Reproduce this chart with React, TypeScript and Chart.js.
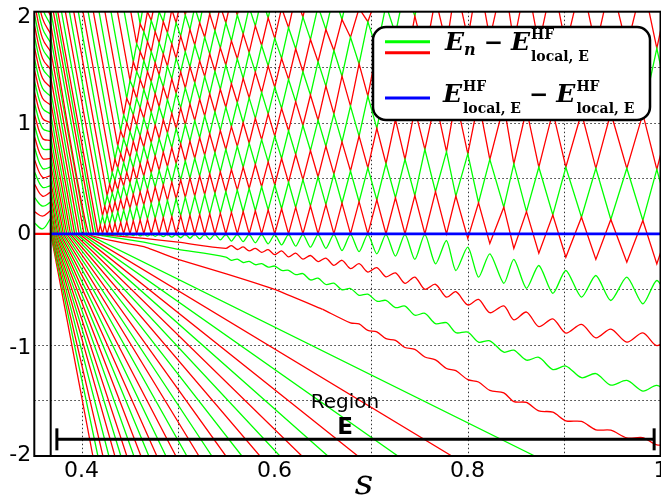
import React, { useEffect, useRef } from 'react';
import { Chart, registerables } from 'chart.js';
Chart.register(...registerables);

const RED = '#ff0000';
const GREEN = '#00ff00';
const BLUE = '#0000ff';

const xTickValues = [0.4, 0.5, 0.6, 0.7, 0.8, 0.9, 1.0];
const xTickLabels = ['0.4', '', '0.6', '', '0.8', '', '1'];
const yLabelValues = [2, 1, 0, -1, -2];
const yLabelTexts = ['2', '1', '0', '-1', '-2'];

const edgeS = 0.368; // s of the black vertical line

// s positions of the zigzag vertex columns
const colS = [0.4172, 0.4194, 0.4217, 0.4240, 0.4265, 0.4291, 0.4318, 0.4346, 0.4375, 0.4405,
  0.4436, 0.4468, 0.4502, 0.4536, 0.4571, 0.4607,
  0.4645, 0.4683, 0.4722, 0.4763, 0.4804, 0.4847, 0.4890, 0.4935, 0.4980, 0.5027,
  0.5075, 0.5123, 0.5173, 0.5224, 0.5276, 0.5328, 0.5382, 0.5438, 0.5495, 0.5553,
  0.5614, 0.5675, 0.5737, 0.5801, 0.5866, 0.5934, 0.6002, 0.6073, 0.6145, 0.6219,
  0.6294, 0.6372, 0.6451, 0.6532, 0.6615, 0.6699, 0.6787, 0.6876, 0.6967, 0.7060,
  0.7155, 0.7253, 0.7352, 0.7454, 0.7558, 0.7668, 0.7782, 0.7879, 0.8003, 0.8114,
  0.8231, 0.8376, 0.8480, 0.8611, 0.8739, 0.8884, 0.9019, 0.9181, 0.9330, 0.9485,
  0.9651, 0.9817, 0.9962, 1.0107];

// touching levels of the upper bands; entry k of row m sits at column m + 2k
const row0 = [0, 0, 0, 0, 0, 0, 0, 0, 0, 0, 0, 0, 0, 0, 0, 0, 0, 0, 0, 0, 0, 0, 0, 0, 0, 0, 0, 0, 0, 0, 0, 0, -0.042, -0.087, -0.132, -0.175, -0.21, -0.23, -0.256, -0.27];
const row1 = [0.078, 0.083, 0.089, 0.096, 0.103, 0.111, 0.119, 0.126, 0.133, 0.14, 0.147, 0.155, 0.162, 0.167, 0.173, 0.18, 0.186, 0.193, 0.2, 0.208, 0.216, 0.226, 0.238, 0.25, 0.263, 0.276, 0.29, 0.306, 0.325, 0.345, 0.38, 0.34, 0.28, 0.24, 0.2, 0.17, 0.15, 0.13, 0.12, 0.11];
const row2 = [0.16, 0.172, 0.184, 0.198, 0.214, 0.23, 0.244, 0.26, 0.274, 0.286, 0.302, 0.316, 0.328, 0.34, 0.354, 0.366, 0.38, 0.394, 0.408, 0.424, 0.44, 0.464, 0.488, 0.512, 0.538, 0.566, 0.594, 0.632, 0.67, 0.76, 0.74, 0.72, 0.67, 0.63, 0.6, 0.6, 0.59, 0.59, 0.58];
const row3 = [0.249, 0.267, 0.288, 0.309, 0.333, 0.357, 0.378, 0.399, 0.42, 0.441, 0.465, 0.486, 0.501, 0.519, 0.54, 0.558, 0.579, 0.6, 0.624, 0.648, 0.678, 0.714, 0.75, 0.789, 0.828, 0.88, 0.95, 1.03, 1.12, 1.2, 1.22, 1.2, 1.16, 1.12, 1.1, 1.09, 1.09, 1.08, 1.08];
const row4 = [0.344, 0.368, 0.396, 0.428, 0.46, 0.488, 0.52, 0.548, 0.572, 0.604, 0.632, 0.656, 0.68, 0.708, 0.732, 0.76, 0.788, 0.816, 0.848, 0.88, 0.928, 0.976, 1.024, 1.08, 1.15, 1.24, 1.35, 1.47, 1.6, 1.7, 1.76, 1.76, 1.72, 1.7, 1.69, 1.68, 1.68, 1.67];
const row5 = [0.445, 0.48, 0.515, 0.555, 0.595, 0.63, 0.665, 0.7, 0.735, 0.775, 0.81, 0.835, 0.865, 0.9, 0.93, 0.965, 1.0, 1.04, 1.08, 1.13, 1.19, 1.25, 1.33, 1.42, 1.53, 1.66, 1.8, 1.96, 2.12, 2.25, 2.32, 2.32, 2.3, 2.29, 2.28, 2.28, 2.27, 2.27];
const row6 = [0.552, 0.594, 0.642, 0.69, 0.732, 0.78, 0.822, 0.858, 0.906, 0.948, 0.984, 1.02, 1.062, 1.098, 1.14, 1.182, 1.224, 1.272, 1.32, 1.39, 1.46, 1.55, 1.65, 1.77, 1.91, 2.06, 2.22, 2.4];
const row7 = [0.672, 0.721, 0.777, 0.833, 0.882, 0.931, 0.98, 1.029, 1.085, 1.134, 1.169, 1.211, 1.26, 1.302, 1.351, 1.4, 1.456, 1.512, 1.58, 1.666, 1.75, 1.84, 1.93, 2.03, 2.14, 2.27, 2.4];
const row8 = [0.792, 0.856, 0.92, 0.976, 1.04, 1.096, 1.144, 1.208, 1.264, 1.312, 1.36, 1.416, 1.464, 1.52, 1.576, 1.632, 1.696, 1.76, 1.856, 1.952, 2.048, 2.152, 2.264, 2.38, 2.5];
const row9 = [0.927, 0.999, 1.071, 1.134, 1.197, 1.26, 1.323, 1.395, 1.458, 1.503, 1.557, 1.62, 1.674, 1.737, 1.8, 1.872, 1.944, 2.034, 2.142, 2.25, 2.37, 2.48];
const row10 = [1.07, 1.15, 1.22, 1.3, 1.37, 1.43, 1.51, 1.58, 1.64, 1.7, 1.77, 1.83, 1.9, 1.97, 2.04, 2.12, 2.2, 2.32, 2.44];
const row11 = [1.22, 1.31, 1.39, 1.46, 1.54, 1.62, 1.71, 1.78, 1.84, 1.9, 1.98, 2.05, 2.12, 2.2, 2.29, 2.38];
const row12 = [1.38, 1.46, 1.56, 1.64, 1.72, 1.81, 1.9, 1.97, 2.04, 2.12, 2.2, 2.28, 2.36];
const row13 = [1.55, 1.64, 1.73, 1.82, 1.91, 2.02, 2.11, 2.17, 2.25, 2.34];
const row14 = [1.71, 1.82, 1.92, 2.0, 2.11, 2.21, 2.3];
const row15 = [1.89, 2.0, 2.1, 2.2, 2.33];
const row16 = [2.08, 2.19, 2.29, 2.42];
// where each upper band curve comes in through the top edge
const latticeLeadS = [0.3733, 0.3771, 0.3811, 0.3853, 0.3898, 0.3945, 0.3994, 0.4047, 0.4101, 0.416, 0.4221, 0.4284, 0.4351, 0.4421, 0.4489, 0.4563];

// the four curves just below zero
const g1Lead = [[0.368, 2.25], [0.415, 0]];
const g1Wave = [-0.003, -0.01, -0.003, -0.011, -0.003, -0.012, -0.003, -0.013, -0.003, -0.014, -0.003, -0.015, -0.003, -0.016, -0.003, -0.018,
  -0.004, -0.02, -0.004, -0.022, -0.004, -0.025, -0.004, -0.03, -0.004, -0.035, -0.004, -0.04, -0.004, -0.045, -0.004, -0.05,
  -0.004, -0.055, -0.004, -0.065, -0.004, -0.07, -0.004, -0.08, -0.004, -0.09, -0.004, -0.1, -0.004, -0.11, -0.004, -0.12,
  -0.004, -0.13, -0.004, -0.15, -0.004, -0.16, -0.004, -0.18, -0.004, -0.2, -0.004, -0.23, -0.004, -0.27, -0.06, -0.33,
  -0.12, -0.39, -0.18, -0.445, -0.23, -0.49, -0.285, -0.535, -0.33, -0.57, -0.375, -0.6, -0.39, -0.63, -0.42, -0.64];
const r2Lead = [[0.368, 2.13], [0.4125, 0], [0.4645, -0.04], [0.5, -0.075]];
const r2Wave = [-0.13, -0.106, -0.141, -0.118, -0.154, -0.13, -0.167, -0.143, -0.187, -0.153, -0.207, -0.174, -0.228, -0.195, -0.25, -0.218,
  -0.284, -0.238, -0.313, -0.269, -0.344, -0.304, -0.387, -0.351, -0.445, -0.389, -0.499, -0.454, -0.57, -0.521, -0.64, -0.59,
  -0.71, -0.648, -0.775, -0.704, -0.835, -0.765, -0.893, -0.815, -0.936, -0.858, -0.975, -0.892, -1.007, -0.92];
const g3Lead = [[0.368, 2.01], [0.41, 0], [0.4645, -0.075], [0.5, -0.14]];
const g3Wave = [-0.209, -0.238, -0.228, -0.258, -0.248, -0.278, -0.269, -0.299, -0.29, -0.329, -0.328, -0.367, -0.358, -0.415, -0.399, -0.456,
  -0.444, -0.504, -0.492, -0.553, -0.543, -0.606, -0.599, -0.664, -0.65, -0.732, -0.716, -0.809, -0.8, -0.89, -0.885, -0.975,
  -0.963, -1.065, -1.047, -1.137, -1.112, -1.222, -1.19, -1.295, -1.258, -1.362, -1.32, -1.415, -1.364, -1.445];
const r4Lead = [[0.368, 1.89], [0.4075, 0], [0.4645, -0.115], [0.5, -0.23], [0.55, -0.36], [0.6, -0.5], [0.65, -0.68]];
const r4Wave = [-0.801, -0.811, -0.869, -0.882, -0.944, -0.959, -1.023, -1.04, -1.109, -1.135, -1.212, -1.232, -1.313, -1.334,
  -1.41, -1.432, -1.51, -1.518, -1.594, -1.605, -1.683, -1.689, -1.764, -1.768, -1.838, -1.835, -1.9, -1.892];

// lower fan: value at the vertical line, zero crossing, exit through the bottom edge
const fanStartY = [1.77, 1.65, 1.53, 1.41, 1.29, 1.19, 1.08, 0.98, 0.88, 0.79, 0.71, 0.63, 0.55, 0.48, 0.41, 0.35, 0.29, 0.24, 0.19, 0.15, 0.11, 0.08, 0.05, 0.03, 0.015, 0.005];
const fanZeroS = [0.405, 0.4025, 0.4, 0.3975, 0.395, 0.3928, 0.3906, 0.3885, 0.3865, 0.3846, 0.3828, 0.3811, 0.3795, 0.378, 0.3766, 0.3753, 0.3741, 0.373, 0.372, 0.3711, 0.3703, 0.3696, 0.369, 0.3686, 0.3683, 0.3681];
const fanExitS = [0.8697, 0.7837, 0.7278, 0.6863, 0.6552, 0.6283, 0.6055, 0.5848, 0.5661, 0.5495, 0.535, 0.5216, 0.5091, 0.4977, 0.4874, 0.478, 0.4697, 0.4615, 0.4542, 0.4469, 0.4407, 0.4345, 0.4283, 0.4221, 0.4169, 0.4117];

// curves left of the vertical line, at s = 0.351, 0.3595, 0.368
const stripY0 = [0.1, 0.2, 0.33, 0.45, 0.56, 0.67, 0.78, 0.88, 0.98, 1.08, 1.18, 1.28, 1.38, 1.48, 1.58, 1.68, 1.78, 1.88, 1.98, 2.08, 2.18, 2.28, 2.38, 2.48, 2.6];
const stripY1 = [0.045, 0.16, 0.25, 0.34, 0.42, 0.51, 0.59, 0.68, 0.77, 0.86, 0.95, 1.04, 1.13, 1.22, 1.31, 1.4, 1.49, 1.58, 1.67, 1.76, 1.85, 1.94, 2.03, 2.12, 2.22];
const stripY2 = [0.14, 0.21, 0.285, 0.375, 0.435, 0.525, 0.6, 0.68, 0.76, 0.84, 0.92, 1.0, 1.08, 1.16, 1.24, 1.32, 1.4, 1.48, 1.56, 1.64, 1.72, 1.8, 1.88, 1.96, 2.05];

export default function App() {
  const ref = useRef<HTMLCanvasElement>(null);
  useEffect(() => {
    const canvas = ref.current!;
    const datasets: any[] = [];
    const line = (pts: number[][], color: string, w = 1.3, tension = 0) => datasets.push({
      data: pts.map(([x, y]) => ({ x, y })), borderColor: color, borderWidth: w, pointRadius: 0, showLine: true, tension,
    });
    line([[edgeS, 0], [1.0, 0]], BLUE, 2.8);
    line([[0.351, 0], [edgeS, 0]], RED, 2.4);

    const rows = [row0, row1, row2, row3, row4, row5, row6, row7, row8, row9, row10, row11, row12, row13, row14, row15, row16];
    for (let m = 0; m <= 15; m++) {
      const pts: number[][] = [[latticeLeadS[m], 2.1]];
      for (let n = m; n < colS.length; n++) {
        const r = (n + m) % 2 === 0 ? m : m + 1;
        const v = rows[r][(n - r) / 2];
        if (v === undefined) break;
        pts.push([colS[n], v]);
      }
      line(pts, m % 2 === 0 ? RED : GREEN);
    }

    line(g1Lead, GREEN);
    line([g1Lead[1], ...g1Wave.map((y, n) => [colS[n], y])], GREEN, 1.3, 0.25);
    line(r2Lead, RED);
    line([r2Lead[r2Lead.length - 1], ...r2Wave.map((y, i) => [colS[i + 34], y])], RED, 1.3, 0.3);
    line(g3Lead, GREEN);
    line([g3Lead[g3Lead.length - 1], ...g3Wave.map((y, i) => [colS[i + 34], y])], GREEN, 1.3, 0.3);
    line(r4Lead, RED, 1.3, 0.1);
    line([r4Lead[r4Lead.length - 1], ...r4Wave.map((y, i) => [colS[i + 52], y])], RED, 1.3, 0.3);

    fanZeroS.forEach((z, i) => {
      line([[edgeS, fanStartY[i]], [z, 0], [fanExitS[i], -2]], i % 2 === 0 ? GREEN : RED);
    });

    stripY0.forEach((y0, i) => {
      line([[0.351, y0], [0.3595, stripY1[i]], [edgeS, stripY2[i]]], i % 2 === 0 ? GREEN : RED, 1.3, 0.4);
    });

    const yLabelShift = [6, 1.5, 0.7, 3, -0.5];

    const framePlugin = {
      id: 'frame',
      beforeDatasetsDraw(chart: any) {
        const { ctx, chartArea: a, scales } = chart;
        const xs = scales.x, ys = scales.y;
        ctx.save();
        ctx.strokeStyle = '#333';
        ctx.lineWidth = 1;
        ctx.setLineDash([1.5, 2.5]);
        xTickValues.forEach((v) => {
          const px = Math.round(xs.getPixelForValue(v)) + 0.5;
          ctx.beginPath(); ctx.moveTo(px, a.top); ctx.lineTo(px, a.bottom); ctx.stroke();
        });
        [-1.5, -1, -0.5, 0.5, 1, 1.5].forEach((v) => {
          const py = Math.round(ys.getPixelForValue(v)) + 0.5;
          ctx.beginPath(); ctx.moveTo(a.left, py); ctx.lineTo(a.right, py); ctx.stroke();
        });
        ctx.restore();
      },
      afterDatasetsDraw(chart: any) {
        const { ctx, chartArea: a, scales } = chart;
        const xs = scales.x, ys = scales.y;
        ctx.save();
        const vx = xs.getPixelForValue(edgeS);
        ctx.strokeStyle = '#000'; ctx.lineWidth = 2;
        ctx.beginPath(); ctx.moveTo(vx, a.top); ctx.lineTo(vx, a.bottom); ctx.stroke();
        const x1 = xs.getPixelForValue(0.3744), x2 = xs.getPixelForValue(0.9934), by = ys.getPixelForValue(-1.85);
        ctx.lineWidth = 3;
        ctx.beginPath(); ctx.moveTo(x1, by); ctx.lineTo(x2, by); ctx.stroke();
        ctx.beginPath(); ctx.moveTo(x1, by - 11); ctx.lineTo(x1, by + 11); ctx.stroke();
        ctx.beginPath(); ctx.moveTo(x2, by - 11); ctx.lineTo(x2, by + 11); ctx.stroke();
        ctx.fillStyle = '#000';
        ctx.textAlign = 'center'; ctx.textBaseline = 'alphabetic';
        ctx.font = '20px "DejaVu Sans"';
        ctx.fillText('Region', 345, 408);
        ctx.font = 'bold 23px "DejaVu Sans"';
        ctx.fillText('E', 345, 434);
        ctx.lineWidth = 2;
        ctx.strokeRect(a.left, a.top, a.right - a.left, a.bottom - a.top);
        // y tick labels
        ctx.font = '22px "DejaVu Sans"';
        ctx.textAlign = 'right'; ctx.textBaseline = 'middle';
        yLabelValues.forEach((v, i) => {
          ctx.fillText(yLabelTexts[i], a.left - 3, ys.getPixelForValue(v) + yLabelShift[i]);
        });
        ctx.textAlign = 'center'; ctx.textBaseline = 'alphabetic';
        ctx.font = 'italic 36px "DejaVu Serif"';
        ctx.fillText('s', 364, 494);
        const lx = 373, ly = 27, lw = 277, lh = 93, r = 13;
        ctx.beginPath();
        ctx.moveTo(lx + r, ly); ctx.lineTo(lx + lw - r, ly); ctx.arcTo(lx + lw, ly, lx + lw, ly + r, r);
        ctx.lineTo(lx + lw, ly + lh - r); ctx.arcTo(lx + lw, ly + lh, lx + lw - r, ly + lh, r);
        ctx.lineTo(lx + r, ly + lh); ctx.arcTo(lx, ly + lh, lx, ly + lh - r, r);
        ctx.lineTo(lx, ly + r); ctx.arcTo(lx, ly, lx + r, ly, r); ctx.closePath();
        ctx.fillStyle = '#fff'; ctx.fill();
        ctx.lineWidth = 2.5; ctx.strokeStyle = '#000'; ctx.stroke();
        ctx.lineWidth = 3;
        [[GREEN, 41.7], [RED, 52.7], [BLUE, 98]].forEach(([c, y]: any) => {
          ctx.strokeStyle = c; ctx.beginPath(); ctx.moveTo(385, y); ctx.lineTo(430, y); ctx.stroke();
        });
        ctx.fillStyle = '#000'; ctx.textAlign = 'left';
        const math = (x: number, y: number, parts: [string, string, number][]) => {
          let cx = x;
          parts.forEach(([t, f, dy]) => {
            ctx.font = f; ctx.fillText(t, cx, y + dy); cx += ctx.measureText(t).width;
          });
          return cx;
        };
        const EI = 'bold italic 25px "DejaVu Serif"';
        const SUP = 'bold 14px "DejaVu Serif"';
        const OP = 'bold 23px "DejaVu Serif"';
        let cx = math(445, 50, [['E', EI, 0], ['n', 'bold italic 16px "DejaVu Serif"', 5], [' \u2212 ', OP, 0], ['E', EI, 0]]);
        ctx.font = SUP; ctx.fillText('HF', cx + 1, 39);
        ctx.fillText('local, E', cx + 1, 61);
        cx = math(443, 102, [['E', EI, 0]]);
        ctx.font = SUP; ctx.fillText('HF', cx + 1, 91);
        ctx.fillText('local, E', cx + 1, 113);
        const w = ctx.measureText('local, E').width;
        cx = math(cx + w + 1, 102, [[' \u2212 ', OP, 0], ['E', EI, 0]]);
        ctx.font = SUP; ctx.fillText('HF', cx + 1, 91);
        ctx.fillText('local, E', cx + 1, 113);
        ctx.restore();
      },
    };

    const chart = new Chart(canvas, {
      type: 'scatter',
      data: { datasets },
      options: {
        animation: false,
        responsive: false,
        events: [],
        layout: { padding: { left: 0, right: 0.5, top: 11.7, bottom: 0 } },
        plugins: { legend: { display: false }, tooltip: { enabled: false } },
        scales: {
          x: {
            type: 'linear', min: 0.351, max: 1.0,
            grid: { display: false, drawTicks: false },
            border: { display: false },
            afterBuildTicks: (s: any) => { s.ticks = xTickValues.map((v) => ({ value: v })); },
            afterFit: (s: any) => { s.height = 42; s.paddingLeft = 0; s.paddingRight = 0; },
            ticks: {
              autoSkip: false, maxRotation: 0, padding: 2, color: '#000',
              font: { family: 'DejaVu Sans', size: 22 },
              callback: (v: any, i: number) => xTickLabels[i],
            },
          },
          y: {
            type: 'linear', min: -2, max: 2,
            grid: { display: false, drawTicks: false },
            border: { display: false },
            afterFit: (s: any) => { s.width = 34.3; s.paddingTop = 0; s.paddingBottom = 0; },
            ticks: { display: false, stepSize: 0.5 },
          },
        },
      },
      plugins: [framePlugin],
    });
    return () => chart.destroy();
  }, []);
  return (
    <div style={{ position: 'fixed', left: 0, top: 0, width: 661, height: 498, background: '#fff' }}>
      <canvas ref={ref} width={661} height={498} />
    </div>
  );
}
